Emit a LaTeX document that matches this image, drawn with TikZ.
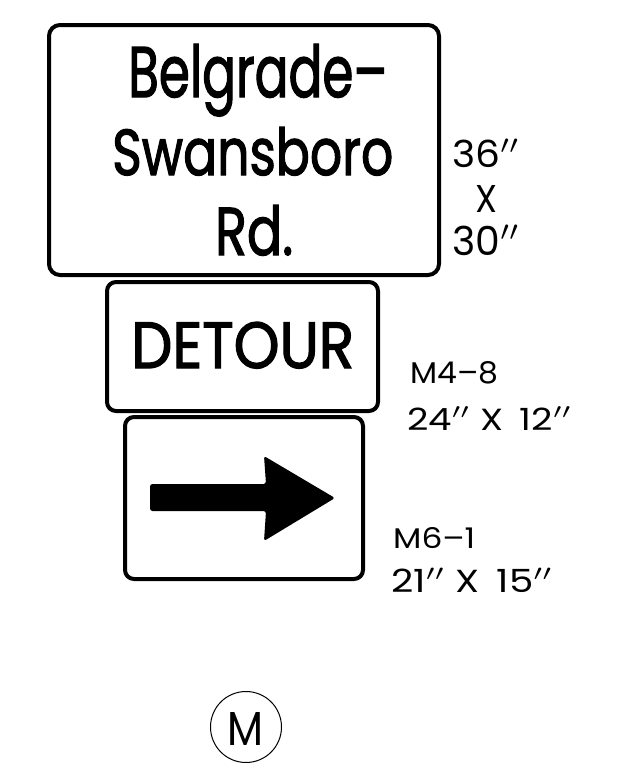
\documentclass[tikz,border=0pt]{standalone}
\usepackage{fontspec}
\usepackage{graphicx}
\setmainfont{Poppins}
\newfontfamily\signfont{Poppins}[FakeBold=2]
\newcommand\fitt[3]{\resizebox{#1pt}{#2pt}{#3}}
\begin{document}
\begin{tikzpicture}[x=1pt,y=-1pt,
  signbox/.style={draw=black,line width=4pt,rounded corners=11pt,fill=white},
  txt/.style={inner sep=0pt,anchor=base west}]
\useasboundingbox (0,0) rectangle (621,780);
\fill[white] (0,0) rectangle (621,780);
% signs
\draw[signbox] (49,25) rectangle (439,275);
\draw[signbox,rounded corners=9pt] (107,282) rectangle (378,411);
\draw[signbox,rounded corners=9pt] (125,417) rectangle (363,579);
% arrow
\fill[black,rounded corners=2.5pt] (150,484) -- (266,484) -- (264,456) -- (335,498) -- (264,541) -- (266,511) -- (150,511) -- cycle;
% sign texts
\node[txt] (l1) at (128,97) {\fitt{259}{53}{\signfont Belgrade–}};
\node[txt] (l2) at (112,175) {\fitt{281}{48}{\signfont Swansboro}};
\node[txt] (l3) at (215,255) {\fitt{78}{50}{\signfont Rd.}};
\node[txt] (det) at (131,368) {\fitt{223}{46}{\signfont DETOUR}};
% dimension labels
\node[txt] (d1) at (452,167) {\fitt{68}{28}{36$''$}};
\node[txt] (d2) at (475,212) {\fitt{22}{27}{X}};
\node[txt] (d3) at (452,255) {\fitt{68}{30}{30$''$}};
\node[txt] (m4) at (410,383) {\fitt{88}{22}{M4\rule{0pt}{0.7em}–8}};
\node[txt] (m4s) at (407,430) {\fitt{165}{23}{24$''$ X\, 12$''$}};
\node[txt] (m6) at (393,548) {\fitt{82}{21}{M6\rule{0pt}{0.7em}–1}};
\node[txt] (m6s) at (391,592) {\fitt{162}{24}{21$''$ X\, 15$''$}};
% M circle
\node[draw=black,line width=1pt,circle,minimum size=71pt,inner sep=0pt] (circ) at (246,727) {};
\node[txt] (mm) at (227,745) {\fitt{36}{33}{M}};
\end{tikzpicture}
\end{document}
